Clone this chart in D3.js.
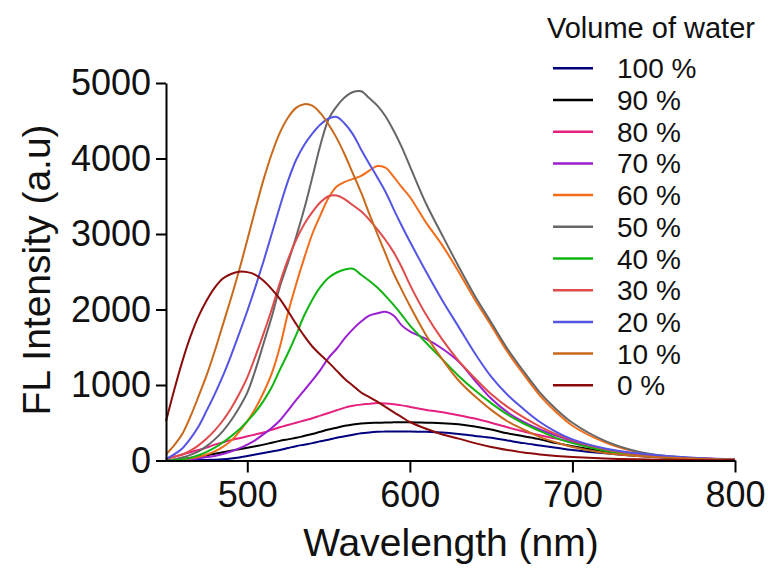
<!DOCTYPE html>
<html>
<head>
<meta charset="utf-8">
<script src="https://cdn.jsdelivr.net/npm/d3@7/dist/d3.min.js"></script>
<style>
  html, body { margin: 0; padding: 0; background: #fff; }
  svg { display: block; font-family: "Liberation Sans", Arial, sans-serif; }
</style>
</head>
<body>
<svg id="chart" width="768" height="568"></svg>
<script>
// ---- data ----
const wavelengths = [450,455,460,465,470,475,480,485,490,495,500,505,510,515,520,525,530,535,540,545,550,555,560,565,570,575,580,585,590,595,600,610,620,630,640,650,660,670,680,690,700,720,740,760,780,800];

const seriesLabels = ["100 %","90 %","80 %","70 %","60 %","50 %","40 %","30 %","20 %","10 %","0 %"];
const seriesColors = ["#00007F","#000000","#E6207F","#9B1FD1","#F26C1A","#666666","#11B511","#E04B4B","#5555E5","#C8691C","#8B0A0A"];

const water100 = [0,0,0,3,5,8,10,15,25,40,60,80,100,120,140,165,190,210,230,255,275,300,320,340,360,372,380,383,385,385,385,380,370,350,325,300,265,230,200,170,140,95,60,35,20,10];
const water90  = [0,10,20,35,50,70,90,110,130,150,170,190,210,235,260,280,300,325,350,380,410,435,460,478,490,497,500,503,505,505,505,500,495,480,450,410,360,320,280,230,190,120,70,40,20,10];
const water80  = [20,50,80,110,140,170,210,240,270,295,320,345,370,405,440,470,500,530,560,595,630,665,700,725,740,750,760,755,745,730,710,670,640,600,555,500,440,385,335,290,240,150,85,45,25,15];
const water70  = [0,5,10,20,30,45,60,85,120,160,210,270,350,430,530,660,800,930,1060,1200,1360,1480,1620,1740,1840,1920,1950,1970,1920,1790,1710,1610,1480,1310,1060,820,640,510,410,330,260,150,85,45,25,15];
const water60  = [0,5,15,30,50,80,120,180,260,380,520,690,900,1150,1500,1950,2330,2680,3000,3250,3480,3630,3690,3730,3770,3840,3900,3880,3760,3620,3490,3150,2850,2500,2130,1790,1440,1140,860,640,460,240,110,48,22,10];
const water50  = [0,15,40,75,120,190,280,390,530,700,900,1200,1550,1900,2300,2620,2960,3330,3750,4180,4520,4690,4810,4880,4890,4800,4700,4560,4370,4150,3900,3400,2980,2570,2180,1830,1480,1180,900,680,500,260,120,55,25,12];
const water40  = [0,5,15,35,70,115,170,240,320,410,520,640,790,970,1200,1420,1660,1920,2130,2300,2420,2490,2530,2540,2460,2380,2290,2180,2060,1930,1790,1560,1340,1120,930,760,610,490,390,300,230,130,70,40,20,12];
const water30  = [20,50,80,130,200,290,400,530,690,880,1100,1380,1680,2000,2350,2660,2920,3130,3290,3420,3500,3510,3460,3380,3300,3190,3060,2920,2760,2560,2330,1930,1600,1320,1090,880,710,570,450,350,270,150,85,45,25,15];
const water20  = [20,80,160,290,450,660,880,1120,1390,1680,1980,2300,2640,3000,3360,3700,3980,4180,4330,4450,4530,4550,4460,4320,4120,3930,3750,3560,3330,3110,2900,2500,2120,1770,1420,1110,870,680,510,380,280,160,95,55,30,18];
const water10  = [80,200,350,580,850,1130,1450,1800,2150,2520,2920,3330,3720,4060,4340,4540,4670,4720,4700,4600,4450,4270,4050,3800,3550,3270,3000,2740,2480,2260,2050,1660,1340,1060,850,670,520,410,310,240,180,100,60,35,20,12];
const water0   = [520,930,1310,1640,1910,2120,2290,2410,2470,2500,2495,2460,2380,2270,2140,1980,1810,1650,1510,1400,1300,1190,1080,990,900,840,780,710,640,575,510,420,345,290,230,180,140,105,80,60,45,25,15,10,5,5];

const seriesValues = [water100,water90,water80,water70,water60,water50,water40,water30,water20,water10,water0];

const xTicks = [500,600,700,800];
const yTicks = [0,1000,2000,3000,4000,5000];
const xTitle = "Wavelength (nm)";
const yTitle = "FL Intensity (a.u)";
const legendTitle = "Volume of water";

// ---- chart ----
const svg = d3.select("#chart");
const x = d3.scaleLinear().domain([450, 800]).range([166, 735]);
const y = d3.scaleLinear().domain([0, 5000]).range([460.5, 83]);

const line = d3.line()
  .x((d, i) => x(wavelengths[i]))
  .y(d => y(d))
  .curve(d3.curveCatmullRom.alpha(0.5));

const plot = svg.append("g");
seriesValues.forEach((vals, k) => {
  plot.append("path")
    .attr("d", line(vals))
    .attr("fill", "none")
    .attr("stroke", seriesColors[k])
    .attr("stroke-width", 2)
    .attr("stroke-linejoin", "round");
});

// axes
const fmt = d3.format("d");
const xAxis = d3.axisBottom(x).tickValues(xTicks).tickFormat(fmt).tickSize(12).tickPadding(9).tickSizeOuter(0);
const yAxis = d3.axisLeft(y).tickValues(yTicks).tickFormat(fmt).tickSize(10).tickPadding(5).tickSizeOuter(0);

const gx = svg.append("g").attr("transform", `translate(0,${y(0)})`).call(xAxis);
const gy = svg.append("g").attr("transform", `translate(${x(450)},0)`).call(yAxis);

[gx, gy].forEach(g => {
  g.selectAll("path, line").attr("stroke", "#000").attr("stroke-width", 2);
  g.selectAll("text").attr("fill", "#111").style("font-size", "36px")
    .style("font-family", '"Liberation Sans", Arial, sans-serif');
});

// axis titles
svg.append("text")
  .attr("x", 451).attr("y", 556)
  .attr("text-anchor", "middle")
  .style("font-size", "39px").attr("fill", "#111")
  .text(xTitle);

svg.append("text")
  .attr("transform", "translate(50,270) rotate(-90)")
  .attr("text-anchor", "middle")
  .style("font-size", "39px").attr("fill", "#111")
  .text(yTitle);

// legend
svg.append("text")
  .attr("x", 547).attr("y", 38)
  .style("font-size", "29px").attr("fill", "#111")
  .text(legendTitle);

const legend = svg.append("g");
seriesLabels.forEach((lab, k) => {
  const ly = 68.3 + k * 31.7;
  legend.append("line")
    .attr("x1", 553).attr("x2", 593)
    .attr("y1", ly).attr("y2", ly)
    .attr("stroke", seriesColors[k]).attr("stroke-width", 2.5);
  legend.append("text")
    .attr("x", 617).attr("y", ly)
    .attr("dy", "0.36em")
    .style("font-size", "28px").attr("fill", "#111")
    .text(lab);
});
</script>
</body>
</html>
